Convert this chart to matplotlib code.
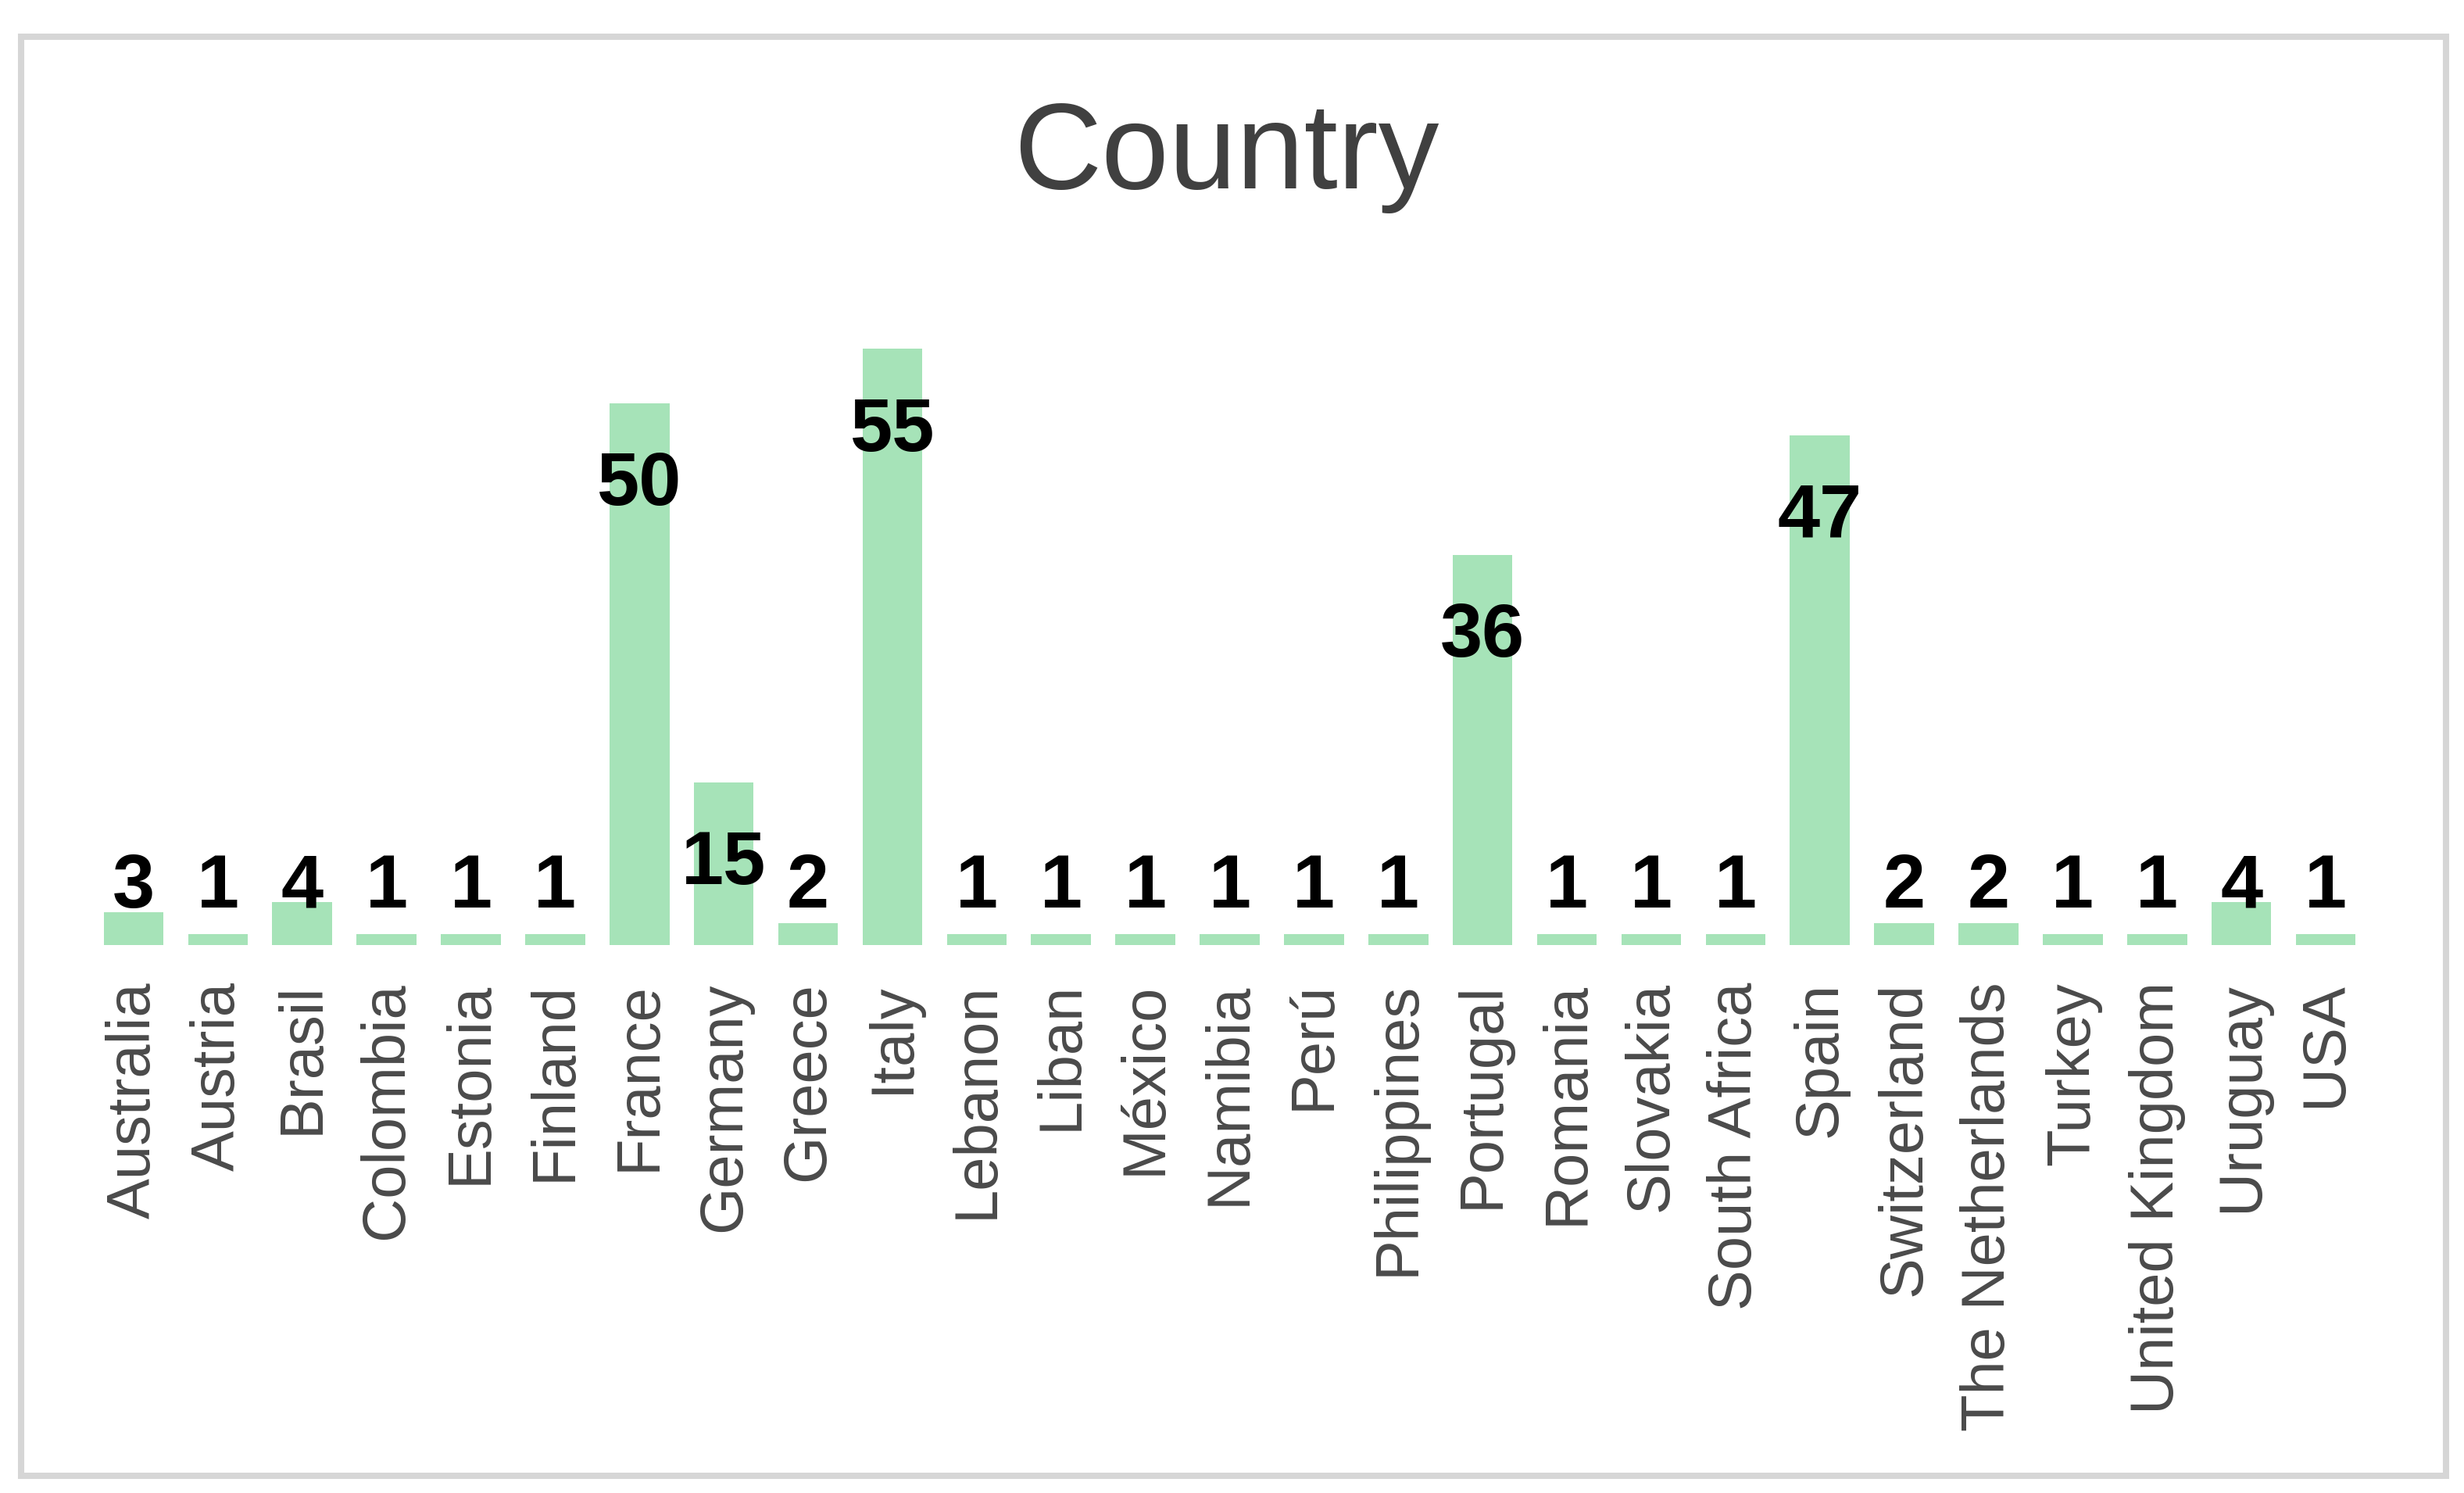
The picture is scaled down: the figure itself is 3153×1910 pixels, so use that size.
import matplotlib
matplotlib.use("Agg")
import matplotlib.pyplot as plt
from matplotlib.patches import Rectangle

plt.rcParams['font.family'] = ['Liberation Sans', 'DejaVu Sans']

countries = ["Australia", "Austria", "Brasil", "Colombia", "Estonia", "Finland",
             "France", "Germany", "Greece", "Italy", "Lebanon", "Liban", "México",
             "Namibia", "Perú", "Philippines", "Portugal", "Romania", "Slovakia",
             "South Africa", "Spain", "Switzerland", "The Netherlands", "Turkey",
             "United Kingdom", "Uruguay", "USA"]
counts = [3, 1, 4, 1, 1, 1, 50, 15, 2, 55, 1, 1, 1, 1, 1, 1, 36, 1, 1, 1, 47,
          2, 2, 1, 1, 4, 1]
title = "Country"

W, H = 3153, 1910
fig = plt.figure(figsize=(W / 100, H / 100), dpi=100)
fig.patch.set_facecolor('white')

# frame
fr = Rectangle((27 / W, 1 - 1888 / H), (3130 - 27) / W, (1888 - 47) / H,
               transform=fig.transFigure, fill=False, edgecolor='#d6d6d6',
               linewidth=5.8, zorder=0)
fig.patches.append(fr)

n = len(countries)
spacing = (2976 - 171) / (n - 1)
left_px = 171 - spacing / 2
ax_w = spacing * n
ax = fig.add_axes([left_px / W, 1 - 1209 / H, ax_w / W, (1209 - 377) / H])
ax.set_xlim(-0.5, n - 0.5)
ax.set_ylim(0, 60)

x = list(range(n))
ax.bar(x, counts, width=0.71, color='#a6e3b8', zorder=2)

for xi, v in zip(x, counts):
    yb = max(v - 9.4, 3.46)
    ax.text(xi, yb, str(v), ha='center', va='baseline', fontsize=70,
            fontweight='bold', color='black', zorder=3, clip_on=False)

ax.set_xticks(x)
ax.set_xticklabels(countries, rotation=90, fontsize=56, color='#4a4a4a',
                   va='top', ha='center')
ax.tick_params(axis='x', length=0, pad=34)
ax.set_yticks([])
for s in ax.spines.values():
    s.set_visible(False)
ax.patch.set_alpha(0)

fig.text(1569 / W, 1 - 241 / H, title, ha='center', va='baseline',
         fontsize=112, color='#404040')

fig.savefig('out.png', dpi=100, facecolor='white')
